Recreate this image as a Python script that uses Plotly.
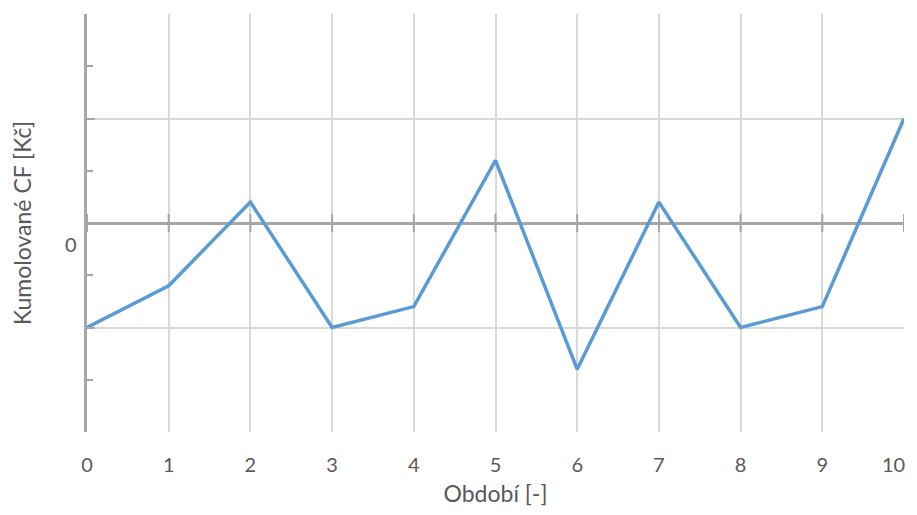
import plotly.graph_objects as go

periods = [0, 1, 2, 3, 4, 5, 6, 7, 8, 9, 10]
cumulative_cf = [-1.0, -0.6, 0.2, -1.0, -0.8, 0.6, -1.4, 0.2, -1.0, -0.8, 1.0]
zero_level = [0] * len(periods)
period_labels = ["0", "1", "2", "3", "4", "5", "6", "7", "8", "9", "10"]

axis_gray = "#a6a6a6"
grid_gray = "#d9d9d9"
text_gray = "#595959"
font_family = "Lato, 'Open Sans', sans-serif"

fig = go.Figure()

# tick marks on the horizontal axis crossing at zero
fig.add_trace(go.Scatter(
    x=periods, y=zero_level, mode="markers",
    marker=dict(symbol="line-ns-open", size=13, color=axis_gray,
                line=dict(width=2, color=axis_gray)),
    hoverinfo="skip", showlegend=False,
))

fig.add_trace(go.Scatter(
    x=periods, y=cumulative_cf, mode="lines",
    line=dict(color="#5b9bd5", width=3.5),
    showlegend=False,
))

# the page adds an 8px body margin, so the figure is offset by 8px
fig.update_layout(
    width=901, height=499,
    margin=dict(l=79, r=5, t=6, b=75),
    plot_bgcolor="white", paper_bgcolor="white",
    font=dict(family=font_family, color=text_gray),
)

# last label is drawn right-anchored so it stays inside the page edge
shown_labels = period_labels[:-1] + [""]

fig.update_xaxes(
    range=[0, 10], tickmode="array", tickvals=periods, ticktext=shown_labels,
    automargin=False,
    showgrid=True, gridcolor=grid_gray, gridwidth=2,
    zeroline=False, showline=False, ticks="",
    tickfont=dict(size=20, color=text_gray),
    ticklabelstandoff=19, ticklabeloverflow="allow",
    title=dict(text="Období [-]", font=dict(size=23, color=text_gray), standoff=15),
)

fig.update_yaxes(
    range=[-2, 2], dtick=1, tick0=0, automargin=False,
    showgrid=True, gridcolor=grid_gray, gridwidth=2,
    zeroline=True, zerolinecolor=axis_gray, zerolinewidth=2.5,
    showline=True, linecolor=axis_gray, linewidth=2.5,
    ticks="inside", ticklen=8, tickcolor=axis_gray, tickwidth=2,
    minor=dict(dtick=0.5, ticks="inside", ticklen=6, tickcolor=axis_gray, tickwidth=2, showgrid=False),
    showticklabels=False,
    title=dict(text="Kumolované CF [Kč]", font=dict(size=23, color=text_gray), standoff=50),
)

fig.add_annotation(
    x=periods[-1], y=0, xref="x", yref="paper", text=period_labels[-1], showarrow=False,
    xanchor="right", yanchor="middle", xshift=3, yshift=-32,
    font=dict(size=20, color=text_gray, family=font_family),
)

fig.add_annotation(
    x=0, y=0, xref="x", yref="y", text="0", showarrow=False,
    xanchor="center", yanchor="middle", xshift=-16, yshift=-21,
    font=dict(size=20, color=text_gray, family=font_family),
)

fig.write_html("out.html")
